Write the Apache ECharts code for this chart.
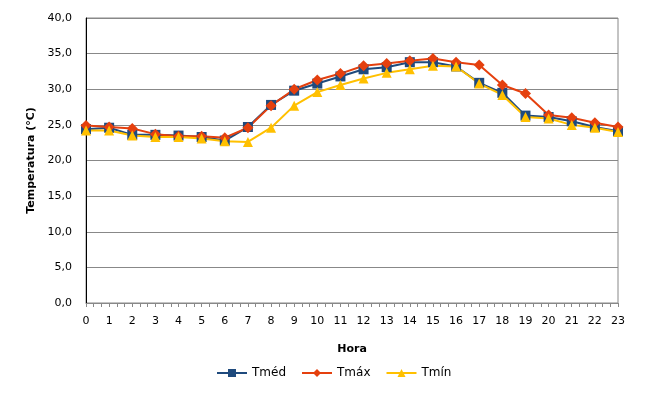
<!DOCTYPE html>
<html lang="pt">
<head>
    <meta charset="UTF-8">
    <title>Temperatura por hora</title>
    <script src="https://cdn.jsdelivr.net/npm/echarts@6/dist/echarts.min.js"></script>
    <style>
        body { margin: 0; background: #fff; }
    </style>
</head>
<body>
<div style="width:660px;height:403px" id="myChart"></div>
<script type="text/javascript">
    // dados
    var horas = ['0','1','2','3','4','5','6','7','8','9','10','11','12','13','14','15','16','17','18','19','20','21','22','23'];
    var tMed = [24.4, 24.6, 23.6, 23.6, 23.5, 23.3, 22.8, 24.7, 27.8, 29.8, 30.8, 31.8, 32.8, 33.1, 33.8, 33.8, 33.2, 30.9, 29.5, 26.3, 26.1, 25.5, 24.7, 24.1];
    var tMax = [24.9, 24.7, 24.5, 23.7, 23.4, 23.4, 23.2, 24.6, 27.7, 30.0, 31.3, 32.2, 33.3, 33.6, 34.0, 34.3, 33.8, 33.4, 30.6, 29.4, 26.4, 26.0, 25.3, 24.7];
    var tMin = [24.2, 24.2, 23.5, 23.3, 23.3, 23.1, 22.7, 22.6, 24.6, 27.7, 29.6, 30.6, 31.5, 32.3, 32.8, 33.3, 33.2, 30.8, 29.2, 26.1, 25.9, 25.0, 24.6, 24.0];

    var fonte = 'DejaVu Sans';
    var myChart = echarts.init(document.getElementById('myChart'));
    myChart.setOption({
        animation: false,
        textStyle: { fontFamily: fonte },
        grid: { left: 86, right: 42, top: 18, bottom: 100, show: true, borderColor: '#888', borderWidth: 1 },
        legend: {
            top: 362,
            left: 211,
            itemWidth: 30,
            itemHeight: 10,
            itemGap: 15,
            textStyle: { fontFamily: fonte, fontSize: 12, color: '#000' },
            data: ['Tméd', 'Tmáx', 'Tmín']
        },
        xAxis: [{
            type: 'category',
            data: horas,
            boundaryGap: false,
            name: 'Hora',
            nameLocation: 'middle',
            nameGap: 41,
            nameTextStyle: { fontFamily: fonte, fontSize: 11, fontWeight: 'bold', color: '#000' },
            axisLine: { lineStyle: { color: '#888' } },
            axisTick: { show: false },
            axisLabel: { color: '#000', fontSize: 11, margin: 13 },
            splitLine: { show: false }
        }, {
            // eixo auxiliar só para os traços
            type: 'value',
            min: 0,
            max: 23,
            interval: 1,
            position: 'bottom',
            axisLine: { show: false },
            axisLabel: { show: false },
            axisTick: { show: true, length: 4, lineStyle: { color: '#888' } },
            minorTick: { show: true, splitNumber: 3, length: 4, lineStyle: { color: '#888' } },
            splitLine: { show: false }
        }],
        yAxis: {
            type: 'value',
            min: 0,
            max: 40,
            interval: 5,
            name: 'Temperatura (°C)',
            nameLocation: 'middle',
            nameGap: 41,
            nameTextStyle: { fontFamily: fonte, fontSize: 11, fontWeight: 'bold', color: '#000' },
            axisLine: { show: true, lineStyle: { color: '#000' } },
            axisTick: { show: false },
            axisLabel: {
                color: '#000',
                fontSize: 11,
                margin: 14,
                formatter: function (v) { return v.toFixed(1).replace('.', ','); }
            },
            splitLine: { lineStyle: { color: '#888' } }
        },
        series: [
            {
                name: 'Tméd',
                type: 'line',
                data: tMed,
                symbol: 'rect',
                symbolSize: 10,
                color: '#1F4A7D',
                lineStyle: { width: 2 }
            },
            {
                name: 'Tmáx',
                type: 'line',
                data: tMax,
                symbol: 'diamond',
                symbolSize: 11,
                color: '#E5400E',
                lineStyle: { width: 2 }
            },
            {
                name: 'Tmín',
                type: 'line',
                data: tMin,
                symbol: 'triangle',
                symbolSize: 10,
                color: '#FFC000',
                lineStyle: { width: 2 }
            }
        ]
    });
</script>
</body>
</html>
